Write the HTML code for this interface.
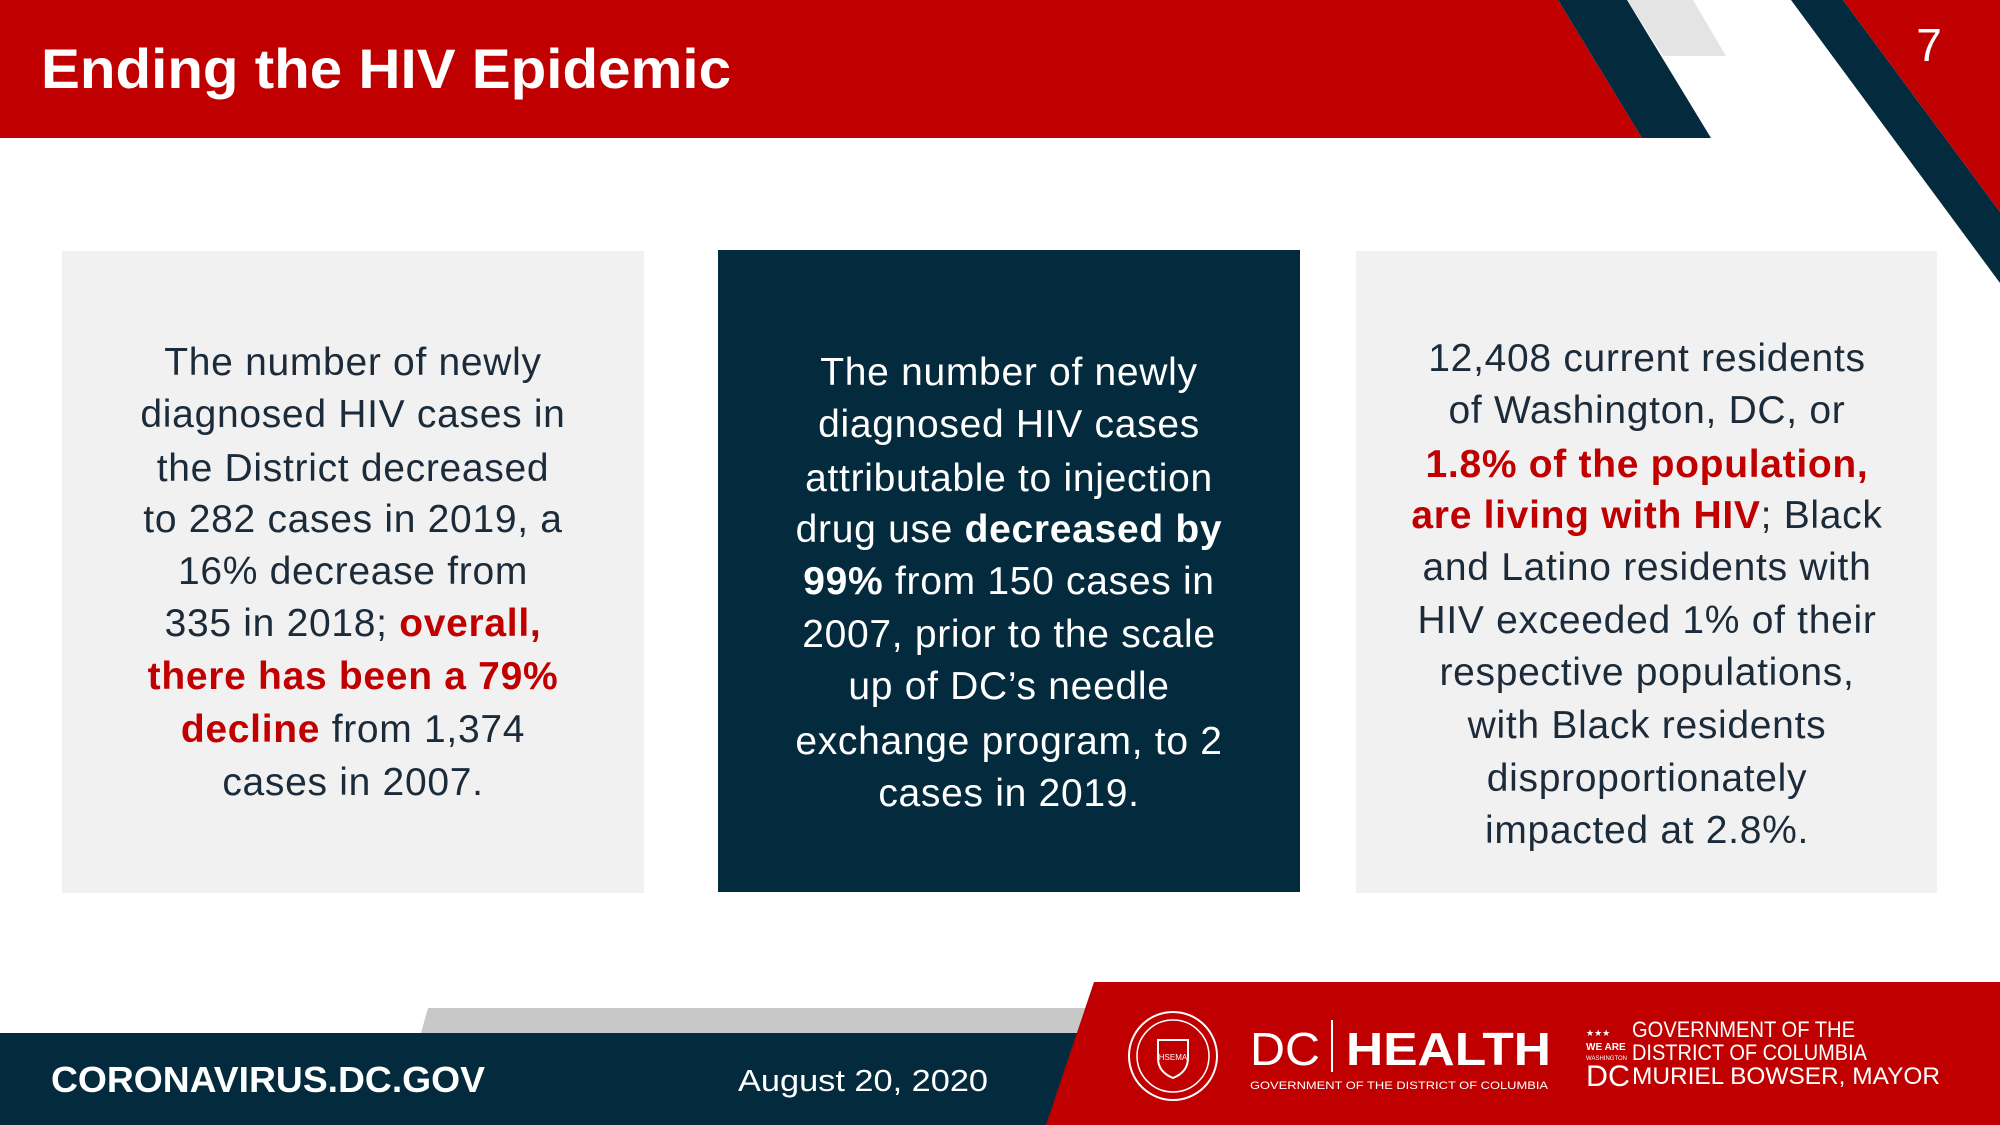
<!DOCTYPE html>
<html><head><meta charset="utf-8"><style>
html,body{margin:0;padding:0;background:#fff}
svg{display:block}
text{font-family:"Liberation Sans",sans-serif}
.t{font-size:39px;fill:#1c2b3a;text-anchor:middle;letter-spacing:0.7px}
.w{font-size:39px;fill:#fff;text-anchor:middle;letter-spacing:0.7px}
.r{fill:#c00000;font-weight:bold}
.b{font-weight:bold}
</style></head><body>
<svg width="2000" height="1125" viewBox="0 0 2000 1125" xmlns="http://www.w3.org/2000/svg">
<rect width="2000" height="1125" fill="#fff"/>
<polygon points="1627,0 1693,0 1726,56 1663,56" fill="#e4e4e4"/>
<polygon points="0,0 1558,0 1642,138 0,138" fill="#c00000"/>
<polygon points="1558,0 1627,0 1711,138 1642,138" fill="#042b3d"/>
<polygon points="1791,0 1843,0 2000,212 2000,283" fill="#042b3d"/>
<polygon points="1843,0 2000,0 2000,212" fill="#c00000"/>
<text x="1929" y="61" fill="#fff" font-size="46" text-anchor="middle">7</text>
<text x="41" y="88" fill="#fff" font-size="56" font-weight="bold" textLength="690" lengthAdjust="spacingAndGlyphs">Ending the HIV Epidemic</text>
<rect x="62" y="251" width="582" height="642" fill="#f1f1f1"/>
<rect x="718" y="250" width="582" height="642" fill="#042b3d"/>
<rect x="1356" y="251" width="581" height="642" fill="#f1f1f1"/>
<text class="t" x="353" y="375">The number of newly</text>
<text class="t" x="353" y="427">diagnosed HIV cases in</text>
<text class="t" x="353" y="481">the District decreased</text>
<text class="t" x="353" y="532">to 282 cases in 2019, a</text>
<text class="t" x="353" y="584">16% decrease from</text>
<text class="t" x="353" y="636">335 in 2018; <tspan class="r">overall,</tspan></text>
<text class="t r" x="353" y="689">there has been a 79%</text>
<text class="t" x="353" y="742"><tspan class="r">decline</tspan> from 1,374</text>
<text class="t" x="353" y="795">cases in 2007.</text>
<text class="w" x="1009" y="385">The number of newly</text>
<text class="w" x="1009" y="437">diagnosed HIV cases</text>
<text class="w" x="1009" y="491">attributable to injection</text>
<text class="w" x="1009" y="542">drug use <tspan class="b">decreased by</tspan></text>
<text class="w" x="1009" y="594"><tspan class="b">99%</tspan> from 150 cases in</text>
<text class="w" x="1009" y="647">2007, prior to the scale</text>
<text class="w" x="1009" y="699">up of DC’s needle</text>
<text class="w" x="1009" y="754">exchange program, to 2</text>
<text class="w" x="1009" y="806">cases in 2019.</text>
<text class="t" x="1647" y="371">12,408 current residents</text>
<text class="t" x="1647" y="423">of Washington, DC, or</text>
<text class="t r" x="1647" y="477">1.8% of the population,</text>
<text class="t" x="1647" y="528"><tspan class="r">are living with HIV</tspan>; Black</text>
<text class="t" x="1647" y="580">and Latino residents with</text>
<text class="t" x="1647" y="633">HIV exceeded 1% of their</text>
<text class="t" x="1647" y="685">respective populations,</text>
<text class="t" x="1647" y="738">with Black residents</text>
<text class="t" x="1647" y="791">disproportionately</text>
<text class="t" x="1647" y="843">impacted at 2.8%.</text>
<polygon points="428,1008 1090,1008 1084,1033 421,1033" fill="#c8c8c8"/>
<polygon points="0,1033 1084,1033 1050,1125 0,1125" fill="#042b3d"/>
<polygon points="1094,982 2000,982 2000,1125 1046,1125" fill="#c00000"/>
<text x="51" y="1092" fill="#fff" font-size="36" font-weight="bold" textLength="434" lengthAdjust="spacingAndGlyphs">CORONAVIRUS.DC.GOV</text>
<text x="738" y="1091" fill="#fff" font-size="31" textLength="250" lengthAdjust="spacingAndGlyphs">August 20, 2020</text>
<circle cx="1173" cy="1056" r="44" fill="none" stroke="#fff" stroke-width="2"/>
<circle cx="1173" cy="1056" r="36" fill="none" stroke="#fff" stroke-width="1.5"/>
<path d="M1158 1040 h30 v18 q0 14 -15 20 q-15 -6 -15 -20 z" fill="none" stroke="#fff" stroke-width="2"/>
<text x="1173" y="1060" fill="#fff" font-size="8" text-anchor="middle">HSEMA</text>
<text x="1250" y="1065" fill="#fff" font-size="46" textLength="70" lengthAdjust="spacingAndGlyphs">DC</text>
<rect x="1331" y="1020" width="2" height="52" fill="#fff"/>
<text x="1346" y="1065" fill="#fff" font-size="46" font-weight="bold" textLength="205" lengthAdjust="spacingAndGlyphs">HEALTH</text>
<text x="1250" y="1089" fill="#fff" font-size="11" textLength="298" lengthAdjust="spacingAndGlyphs">GOVERNMENT OF THE DISTRICT OF COLUMBIA</text>
<text x="1586" y="1036" fill="#fff" font-size="9">★★★</text>
<text x="1586" y="1050" fill="#fff" font-size="10" font-weight="bold">WE ARE</text>
<text x="1586" y="1060" fill="#fff" font-size="6">WASHINGTON</text>
<text x="1586" y="1086" fill="#fff" font-size="30" textLength="44" lengthAdjust="spacingAndGlyphs">DC</text>
<text x="1632" y="1037" fill="#fff" font-size="22" textLength="223" lengthAdjust="spacingAndGlyphs">GOVERNMENT OF THE</text>
<text x="1632" y="1060" fill="#fff" font-size="22" textLength="235" lengthAdjust="spacingAndGlyphs">DISTRICT OF COLUMBIA</text>
<text x="1632" y="1084" fill="#fff" font-size="24" textLength="308" lengthAdjust="spacingAndGlyphs">MURIEL BOWSER, MAYOR</text>
</svg>
</body></html>
